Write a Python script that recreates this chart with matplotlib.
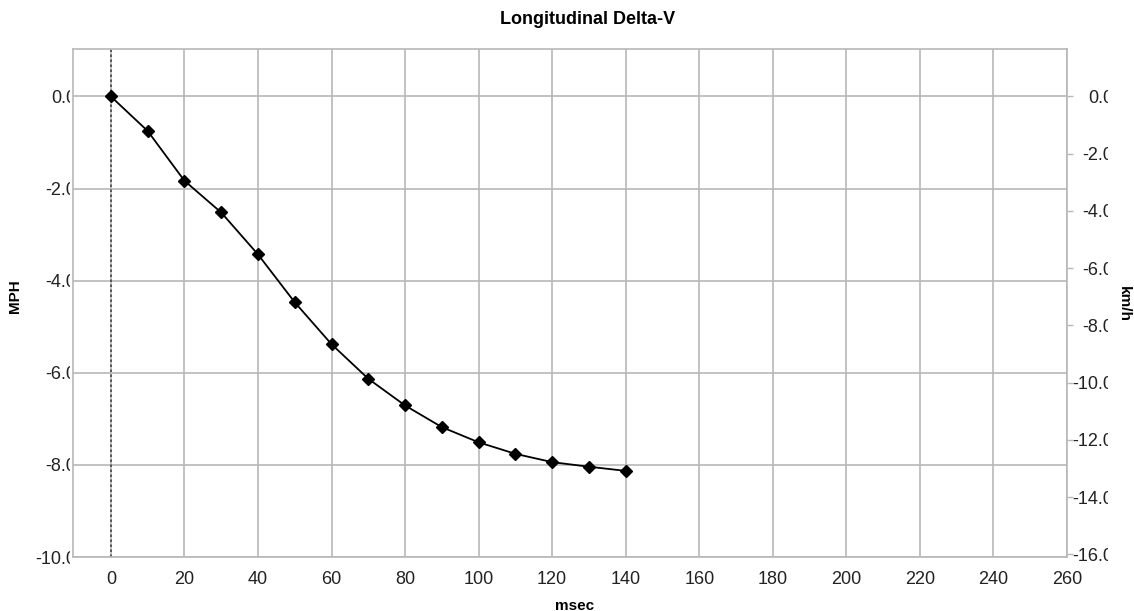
# Longitudinal Delta-V curve, MPH on left / km/h on right

import matplotlib
matplotlib.use('Agg')
from matplotlib import pyplot as plt
from matplotlib.transforms import Bbox

plt.rcParams['font.family'] = ['Liberation Sans', 'DejaVu Sans']

msec = [0, 10, 20, 30, 40, 50, 60, 70, 80, 90, 100, 110, 120, 130, 140]
mph = [0.0, -0.75, -1.83, -2.52, -3.43, -4.47, -5.38, -6.13, -6.71,
       -7.18, -7.51, -7.76, -7.94, -8.04, -8.13]

x_ticks = list(range(0, 261, 20))
mph_ticks = [0, -2, -4, -6, -8, -10]
kmh_ticks = [0, -2, -4, -6, -8, -10, -12, -14, -16]
KMH_PER_MPH = 1.609344

W, H = 1134, 611
fig = plt.figure(figsize=(W / 100, H / 100), dpi=100)
ax = fig.add_axes([73 / W, (H - 557) / H, (1067 - 73) / W, (557 - 49) / H])

grid_c = '#b8b8b8'
ax.set_xlim(-10.3, 260)
ax.set_ylim(-10, 1.03)
ax.set_xticks(x_ticks)
ax.set_yticks(mph_ticks)
ax.set_yticklabels(['%.1f' % v for v in mph_ticks])
ax.grid(True, color=grid_c, lw=1.2)
ax.set_axisbelow(True)
for s in ax.spines.values():
    s.set_color(grid_c)
    s.set_linewidth(1.2)
ax.tick_params(axis='x', length=0, pad=10, labelsize=13, colors='#222222')
ax.tick_params(axis='y', length=0, pad=-2.2, labelsize=13, colors='#222222')

ax.axvline(0, color='#444444', ls=(0, (1.5, 1.5)), lw=1.2)
ax.plot(msec, mph, color='black', lw=1.3, marker='D', ms=6.5, zorder=3)

ax2 = ax.twinx()
ax2.set_ylim(-10 * KMH_PER_MPH, 1.03 * KMH_PER_MPH)
ax2.set_yticks(kmh_ticks)
ax2.set_yticklabels(['%.1f' % v for v in kmh_ticks], ha='right')
ax2.tick_params(axis='y', length=4, width=1, color=grid_c, pad=29.5,
                labelsize=13, labelcolor='#222222')
for s in ax2.spines.values():
    s.set_visible(False)

fig.text(588 / W, 1 - 20 / H, 'Longitudinal Delta-V', ha='center', va='center',
         fontsize=13, fontweight='bold')
fig.text(15 / W, 1 - 296 / H, 'MPH', rotation=90, ha='center', va='center',
         fontsize=11, fontweight='bold')
fig.text(1124 / W, 1 - 304 / H, 'km/h', rotation=270, ha='center', va='center',
         fontsize=11, fontweight='bold')
fig.text(575 / W, 1 - 606 / H, 'msec', ha='center', va='center',
         fontsize=11, fontweight='bold')

# labels are cut off at a fixed width, like in the original export
fig.canvas.draw()
left_clip = Bbox([[0, 0], [70, H]])
right_clip = Bbox([[1060, 0], [1108, H]])
for t in ax.get_yticklabels():
    t.set_clip_box(left_clip)
    t.set_clip_on(True)
for t in ax2.get_yticklabels():
    t.set_clip_box(right_clip)
    t.set_clip_on(True)

fig.savefig('out.png', dpi=100)
